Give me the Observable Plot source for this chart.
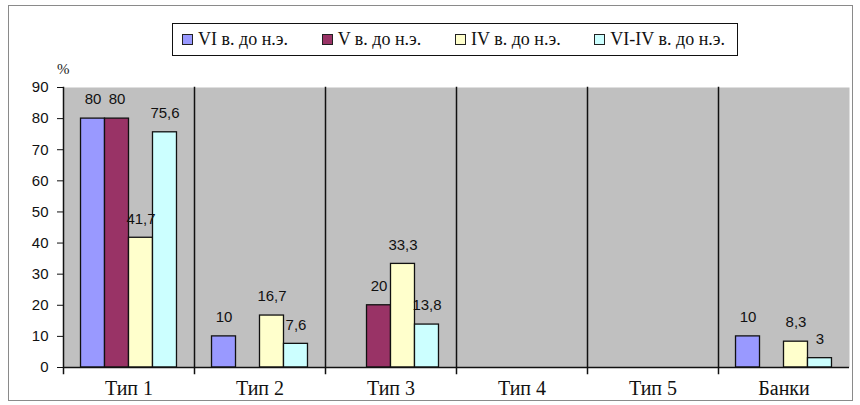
<!DOCTYPE html>
<html>
<head>
<meta charset="utf-8">
<script src="https://cdn.jsdelivr.net/npm/d3@7"></script>
<script src="https://cdn.jsdelivr.net/npm/@observablehq/plot@0.6"></script>
<style>
  html, body { margin: 0; padding: 0; background: #fff; }
  #wrap { position: relative; width: 860px; height: 405px; overflow: hidden; background: #fff; }
  #border { position: absolute; left: 8px; top: 5px; width: 845px; height: 396px; border: 1px solid #8a8a8a; box-sizing: border-box; }
  #legend { position: absolute; left: 172px; top: 23px; width: 566px; height: 33px; border: 1.5px solid #111; box-sizing: border-box;
            display: flex; align-items: center; justify-content: space-between; padding: 0 12px 0 9px;
            font-family: "Liberation Serif", "Times New Roman", serif; font-size: 18px; color: #111; }
  .item { display: flex; align-items: center; white-space: nowrap; }
  .sw { width: 9px; height: 9px; border: 1px solid #222; margin-right: 5px; }
  #pct { position: absolute; left: 57px; top: 61px; font-family: "Liberation Serif", "Times New Roman", serif; font-size: 15px; color: #222; }
  #chart { position: absolute; left: 0; top: 60px; }
</style>
</head>
<body>
<div id="wrap">
  <div id="border"></div>
  <div id="legend"></div>
  <div id="pct">%</div>
  <div id="chart"></div>
</div>
<script>
const categories = ["Тип 1", "Тип 2", "Тип 3", "Тип 4", "Тип 5", "Банки"];
const series = ["VI в. до н.э.", "V в. до н.э.", "IV в. до н.э.", "VI-IV в. до н.э."];
const colors = ["#9999ff", "#993366", "#ffffcc", "#ccffff"];
const valuesVI   = [80, 10, null, null, null, 10];
const valuesV    = [80, null, 20, null, null, null];
const valuesIV   = [41.7, 16.7, 33.3, null, null, 8.3];
const valuesVIIV = [75.6, 7.6, 13.8, null, null, 3];
const yTicks = [0, 10, 20, 30, 40, 50, 60, 70, 80, 90];

const allValues = [valuesVI, valuesV, valuesIV, valuesVIIV];
const data = [];
categories.forEach((c, i) => {
  series.forEach((s, j) => {
    const v = allValues[j][i];
    if (v != null) data.push({cat: c, series: s, value: v, label: String(v).replace(".", ",")});
  });
});

// legend
const legend = document.getElementById("legend");
series.forEach((s, j) => {
  const it = document.createElement("div");
  it.className = "item";
  const sw = document.createElement("div");
  sw.className = "sw";
  sw.style.background = colors[j];
  const t = document.createElement("span");
  t.textContent = s;
  it.appendChild(sw); it.appendChild(t);
  legend.appendChild(it);
});

const sans = "'Liberation Sans', Arial, sans-serif";
const serif = "'Liberation Serif', 'Times New Roman', serif";

const chart = Plot.plot({
  width: 860,
  height: 345,
  marginTop: 27,
  marginBottom: 38,
  marginLeft: 62,
  marginRight: 11,
  style: {background: "transparent", color: "#111"},
  fx: {domain: categories, padding: 0, label: null},
  x: {domain: series, paddingInner: 0, paddingOuter: 0.73, round: false, axis: null},
  y: {domain: [0, 90], label: null},
  color: {domain: series, range: colors},
  marks: [
    Plot.frame({fill: "#c0c0c0"}),
    Plot.frame({anchor: "left", stroke: "#111", strokeWidth: 1.5, insetBottom: -6}),
    Plot.barY(data, {fx: "cat", x: "series", y: "value", fill: "series", stroke: "#111", strokeWidth: 1.3}),
    Plot.ruleY(categories, {fx: d => d, y: () => 0, stroke: "#111", strokeWidth: 1.5}),
    Plot.text(data, {fx: "cat", x: "series", y: "value", text: "label", dy: -19, fontSize: 15, fontFamily: sans, fill: "#111"}),
    Plot.axisY(yTicks, {facetAnchor: "left", anchor: "left", tickSize: 6, tickPadding: 9, fontSize: 15, fontFamily: sans, label: null}),
    Plot.axisFx({anchor: "bottom", tickSize: 0, tickPadding: 13, fontSize: 20, fontFamily: serif, label: null})
  ]
});
document.getElementById("chart").appendChild(chart);
</script>
</body>
</html>
